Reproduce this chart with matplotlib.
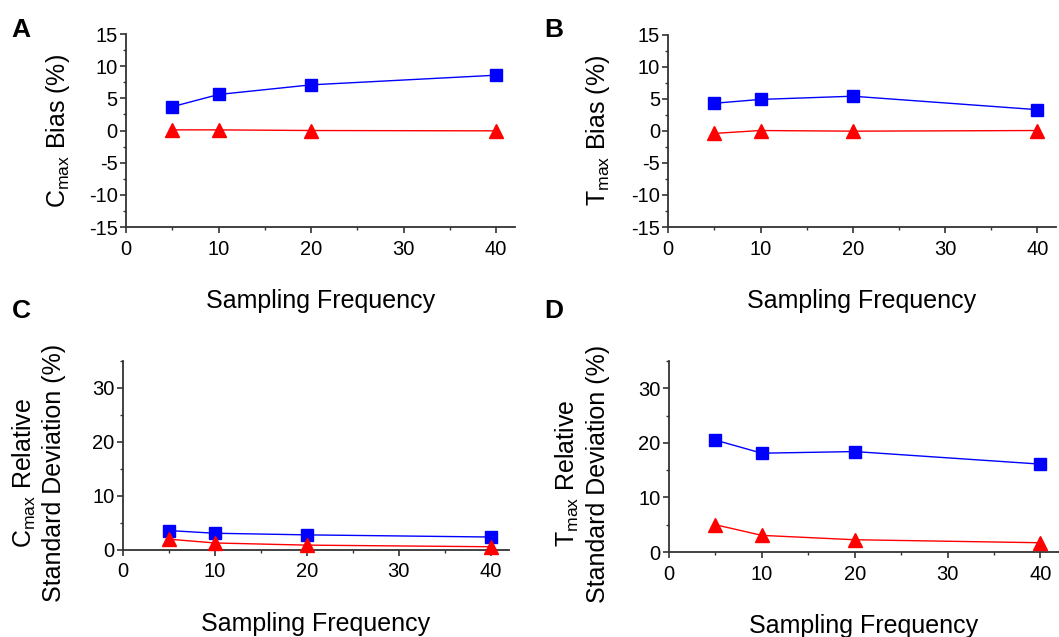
import matplotlib
matplotlib.use("Agg")
import matplotlib.pyplot as plt
from matplotlib.ticker import MultipleLocator

plt.rcParams['font.family'] = ['Liberation Sans', 'DejaVu Sans']
plt.rcParams['mathtext.fontset'] = 'custom'
plt.rcParams['mathtext.rm'] = 'Liberation Sans'
plt.rcParams['axes.unicode_minus'] = False

freq = [5, 10, 20, 40]

cmax_bias_blue = [3.7, 5.6, 7.1, 8.6]
cmax_bias_red = [0.1, 0.1, 0.0, -0.05]
tmax_bias_blue = [4.3, 4.9, 5.4, 3.3]
tmax_bias_red = [-0.4, 0.05, -0.05, 0.05]
cmax_rsd_blue = [3.6, 3.1, 2.8, 2.4]
cmax_rsd_red = [2.0, 1.3, 0.9, 0.6]
tmax_rsd_blue = [20.5, 18.1, 18.4, 16.1]
tmax_rsd_red = [5.0, 3.05, 2.25, 1.7]

xlabel = "Sampling Frequency"
ylabels = [r"C$_{\mathrm{max}}$ Bias (%)",
           r"T$_{\mathrm{max}}$ Bias (%)",
           "C$_{\\mathrm{max}}$ Relative\nStandard Deviation (%)",
           "T$_{\\mathrm{max}}$ Relative\nStandard Deviation (%)"]
letters = ["A", "B", "C", "D"]

fig = plt.figure(figsize=(10.59, 6.37), dpi=100)

rects = [
    [0.119, 0.6436, 0.367, 0.303],
    [0.631, 0.6436, 0.366, 0.302],
    [0.116, 0.1366, 0.3646, 0.2967],
    [0.6317, 0.1334, 0.3683, 0.30],
]
blue_data = [cmax_bias_blue, tmax_bias_blue, cmax_rsd_blue, tmax_rsd_blue]
red_data = [cmax_bias_red, tmax_bias_red, cmax_rsd_red, tmax_rsd_red]
letter_pos = [(0.011, 0.972), (0.514, 0.972), (0.011, 0.53), (0.514, 0.53)]
ylabel_xy = [(-0.139, 0.5), (-0.144, 0.5), (-0.146, 0.41), (-0.151, 0.41)]

spine_col = '#333333'
for i in range(4):
    ax = fig.add_axes(rects[i])
    ax.plot(freq, blue_data[i], color='#0000ff', lw=1.0, marker='s',
            markersize=8, markeredgecolor='#0000ff', clip_on=False, zorder=3)
    ax.plot(freq, red_data[i], color='#ff0000', lw=1.0, marker='^',
            markersize=10, markeredgecolor='#ff0000', clip_on=False, zorder=3)
    ax.set_xlim(0, 42)
    ax.xaxis.set_major_locator(MultipleLocator(10))
    ax.xaxis.set_minor_locator(MultipleLocator(5))
    if i < 2:
        ax.set_ylim(-15, 15)
        ax.yaxis.set_major_locator(MultipleLocator(5))
        ax.yaxis.set_minor_locator(MultipleLocator(2.5))
    else:
        ax.set_ylim(0, 35)
        ax.set_yticks([0, 10, 20, 30])
        ax.yaxis.set_minor_locator(MultipleLocator(5))
    for s in ['top', 'right']:
        ax.spines[s].set_visible(False)
    for s in ['left', 'bottom']:
        ax.spines[s].set_color(spine_col)
        ax.spines[s].set_linewidth(1.3)
    ax.tick_params(which='major', direction='out', length=4, width=1.2,
                   color=spine_col, labelsize=14.5)
    ax.tick_params(axis='y', which='major', pad=2)
    ax.tick_params(axis='x', which='major', pad=5)
    ax.tick_params(which='minor', direction='out', length=2.5, width=1.0,
                   color=spine_col)
    ax.set_xlabel(xlabel, fontsize=18, labelpad=22)
    ax.set_ylabel(ylabels[i], fontsize=18, linespacing=1.25)
    ax.yaxis.set_label_coords(*ylabel_xy[i])
    fig.text(letter_pos[i][0], letter_pos[i][1], letters[i], fontsize=19,
             fontweight='bold', va='top', ha='left')

fig.savefig("out.png", dpi=100)
